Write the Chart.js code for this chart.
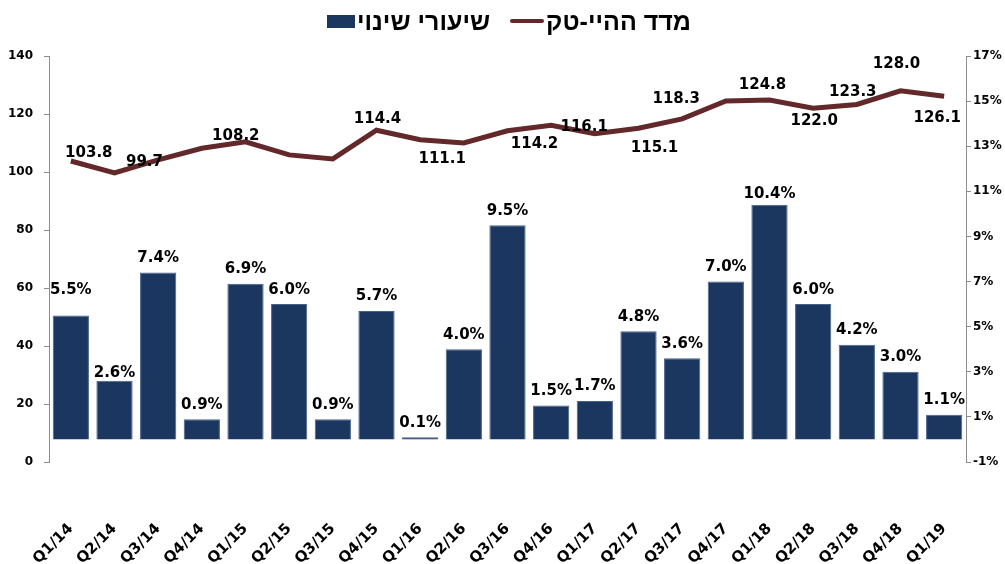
<!DOCTYPE html>
<html>
<head>
<meta charset="utf-8">
<script src="https://cdn.jsdelivr.net/npm/chart.js@4.4.0/dist/chart.umd.min.js"></script>
<style>
    html, body {margin: 0; padding: 0; background: #fff; overflow: hidden;}
    #wrap {width: 1005px; height: 564px; position: relative;}
    #legend {position: absolute; top: 6px; left: 0; width: 1018px; display: flex; justify-content: center; align-items: center;
        direction: ltr; font: bold 25px "Liberation Sans", Arial, sans-serif; color: #000; line-height: 30px;}
    #legend .item {display: flex; align-items: center; margin: 0 10px;}
    #legend .txt {unicode-bidi: isolate; direction: rtl; margin-left: 2px;}
</style>
</head>
<body>
<div id="wrap"><canvas id="myChart"></canvas><div id="legend"></div></div>
<script>
const quarters = ['Q1/14', 'Q2/14', 'Q3/14', 'Q4/14', 'Q1/15', 'Q2/15', 'Q3/15', 'Q4/15', 'Q1/16', 'Q2/16', 'Q3/16',
    'Q4/16', 'Q1/17', 'Q2/17', 'Q3/17', 'Q4/17', 'Q1/18', 'Q2/18', 'Q3/18', 'Q4/18', 'Q1/19'];
// שיעורי שינוי (%), right axis
const changeRates = [5.5, 2.6, 7.4, 0.9, 6.9, 6.0, 0.9, 5.7, 0.1, 4.0, 9.5, 1.5, 1.7, 4.8, 3.6, 7.0, 10.4, 6.0, 4.2, 3.0, 1.1];
// מדד ההיי-טק, left axis
const hiTechIndex = [103.8, 99.7, 104.2, 108.2, 110.4, 105.9, 104.5, 114.4, 111.1, 110.0, 114.2,
    116.1, 113.2, 115.1, 118.3, 124.5, 124.8, 122.0, 123.3, 128.0, 126.1];
const leftTicks = [0, 140, 20];
const rightTicks = [-1, 17, 2];
const seriesNames = ['שיעורי שינוי', 'מדד ההיי-טק'];

const barColor = '#1b365f', lineColor = '#62282a';
const numFont = '"DejaVu Sans", Verdana, sans-serif';

// where each index label sits relative to its point (only labelled points)
const lineLabelPos = {
    0: [18, -8], 1: [30, -11], 3: [34, -12], 7: [1, -11], 8: [22, 19], 10: [27, 13], 11: [33, 2],
    13: [16, 20], 14: [-6, -20], 16: [-7, -15], 17: [1, 13], 18: [-4, -12], 19: [-4, -27], 20: [-7, 22]
};
// gap between bar top and its label, a few were moved by hand in the original
const barLabelGap = {0: 18, 1: 0, 16: 3};

const labelPlugin = {
    id: 'valueLabels',
    afterDatasetsDraw(chart) {
        const c = chart.ctx;
        c.save();
        c.font = 'bold 15px ' + numFont;
        c.fillStyle = '#000';
        c.textAlign = 'center';
        c.textBaseline = 'bottom';
        chart.getDatasetMeta(0).data.forEach(function (bar, i) {
            const gap = barLabelGap[i] !== undefined ? barLabelGap[i] : 7;
            c.fillText(changeRates[i].toFixed(1) + '%', bar.x, bar.y - gap);
        });
        c.textBaseline = 'middle';
        chart.getDatasetMeta(1).data.forEach(function (pt, i) {
            const p = lineLabelPos[i];
            if (p) c.fillText(hiTechIndex[i].toFixed(1), pt.x + p[0], pt.y + p[1]);
        });
        c.restore();
    }
};

const myChart = new Chart(document.getElementById('myChart'), {
    type: 'bar',
    plugins: [labelPlugin],
    data: {
        labels: quarters,
        datasets: [
            {
                label: seriesNames[0],
                data: changeRates,
                yAxisID: 'y1',
                backgroundColor: barColor,
                borderColor: '#47628a',
                borderWidth: 1,
                barPercentage: 0.83,
                categoryPercentage: 1,
                order: 2
            },
            {
                type: 'line',
                label: seriesNames[1],
                data: hiTechIndex,
                yAxisID: 'y',
                borderColor: lineColor,
                borderWidth: 5,
                pointRadius: 0,
                tension: 0,
                order: 1
            }
        ]
    },
    options: {
        responsive: true,
        maintainAspectRatio: false,
        animation: false,
        layout: {padding: {top: 56, left: 0, right: 0, bottom: 0}},
        plugins: {legend: {display: false}, tooltip: {enabled: false}},
        scales: {
            x: {
                grid: {display: false},
                border: {display: false},
                ticks: {
                    color: '#000', font: {family: numFont, size: 15, weight: 'bold'},
                    minRotation: 45, maxRotation: 45, padding: 50, autoSkip: false
                },
                afterFit: function (s) {
                    s.height = 102;
                    s.paddingLeft = 0;
                    s.paddingRight = 0;
                }
            },
            y: {
                position: 'left',
                min: leftTicks[0], max: leftTicks[1],
                ticks: {stepSize: leftTicks[2], color: '#000', font: {family: numFont, size: 12, weight: 'bold'}, padding: 11},
                grid: {drawOnChartArea: false, tickLength: 5, color: '#8c8c8c'},
                border: {color: '#8c8c8c'},
                afterFit: function (s) { s.width = 49; }
            },
            y1: {
                position: 'right',
                min: rightTicks[0], max: rightTicks[1],
                ticks: {
                    stepSize: rightTicks[2], color: '#000', font: {family: numFont, size: 12, weight: 'bold'}, padding: 2,
                    callback: function (v) { return v + '%'; }
                },
                grid: {drawOnChartArea: false, tickLength: 5, color: '#8c8c8c'},
                border: {color: '#8c8c8c'},
                afterFit: function (s) { s.width = 39; }
            }
        }
    }
});

// html legend: bar item first, then the line
const legendBox = document.getElementById('legend');
myChart.data.datasets.forEach(function (ds, i) {
    const item = document.createElement('div');
    item.className = 'item';
    const mark = document.createElement('span');
    if (i === 0) {
        mark.style.cssText = 'display:inline-block;width:28px;height:13px;background:' + barColor;
    } else {
        mark.style.cssText = 'display:inline-block;width:34px;height:4px;border-radius:2px;background:' + lineColor;
    }
    const txt = document.createElement('span');
    txt.className = 'txt';
    txt.dir = 'rtl';
    txt.textContent = ds.label;
    item.appendChild(mark);
    item.appendChild(txt);
    legendBox.appendChild(item);
});
</script>
</body>
</html>
